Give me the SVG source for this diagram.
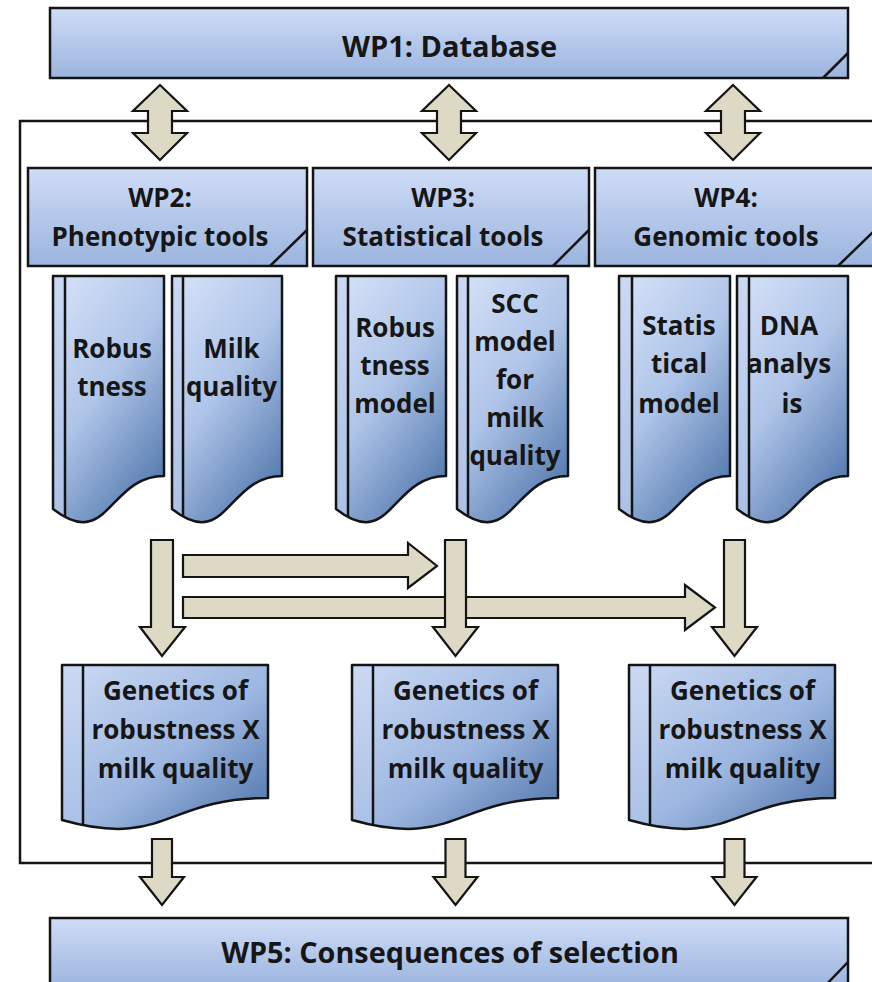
<svg xmlns="http://www.w3.org/2000/svg" xmlns:xlink="http://www.w3.org/1999/xlink" width="872" height="982" viewBox="0 0 872 982">
<defs>
<linearGradient id="gBox" x1="0" y1="0" x2="0" y2="1">
<stop offset="0" stop-color="#cfdcf7"/>
<stop offset="1" stop-color="#9bb4de"/>
</linearGradient>
<linearGradient id="gTall" x1="0.2" y1="0" x2="0.8" y2="1">
<stop offset="0" stop-color="#d0ddf6"/>
<stop offset="0.45" stop-color="#aec4e8"/>
<stop offset="1" stop-color="#4f75ab"/>
</linearGradient>
<linearGradient id="gShort" x1="0" y1="0" x2="1" y2="1">
<stop offset="0" stop-color="#ccdaf4"/>
<stop offset="0.55" stop-color="#9cb6e0"/>
<stop offset="1" stop-color="#4a6fa6"/>
</linearGradient>
<linearGradient id="gStrip" x1="0" y1="0" x2="0" y2="1">
<stop offset="0" stop-color="#cbd8f3"/>
<stop offset="1" stop-color="#a3bbe3"/>
</linearGradient>
<path id="d1" d="M53,276 H164 V476 C108.5,476 108.5,552 53,509 Z"/>
<path id="d2" d="M172,276 H282 V476 C227,476 227,552 172,509 Z"/>
<path id="d3" d="M336,276 H446 V476 C391,476 391,552 336,509 Z"/>
<path id="d4" d="M457,276 H568 V476 C512.5,476 512.5,552 457,509 Z"/>
<path id="d5" d="M619,276 H730 V476 C674.5,476 674.5,552 619,509 Z"/>
<path id="d6" d="M737,276 H848 V476 C792.5,476 792.5,552 737,509 Z"/>
<path id="d7" d="M62,665 H268 V798 C165,798 165,849 62,820 Z"/>
<path id="d8" d="M352,665 H558 V798 C455,798 455,849 352,820 Z"/>
<path id="d9" d="M629,665 H835 V798 C732,798 732,849 629,820 Z"/>
<clipPath id="c1"><use xlink:href="#d1"/></clipPath>
<clipPath id="c2"><use xlink:href="#d2"/></clipPath>
<clipPath id="c3"><use xlink:href="#d3"/></clipPath>
<clipPath id="c4"><use xlink:href="#d4"/></clipPath>
<clipPath id="c5"><use xlink:href="#d5"/></clipPath>
<clipPath id="c6"><use xlink:href="#d6"/></clipPath>
<clipPath id="c7"><use xlink:href="#d7"/></clipPath>
<clipPath id="c8"><use xlink:href="#d8"/></clipPath>
<clipPath id="c9"><use xlink:href="#d9"/></clipPath>
</defs>
<style>
.box{fill:url(#gBox);stroke:#141414;stroke-width:2.5}
.fold{stroke:#141414;stroke-width:2.5;fill:none}
.tall{fill:url(#gTall)}
.short{fill:url(#gShort)}
.strip{fill:url(#gStrip)}
.ol{fill:none;stroke:#141414;stroke-width:2.5;stroke-linejoin:round}
.ln{stroke:#141414;stroke-width:2.5}
.arr{fill:#ddd9c4;stroke:#141414;stroke-width:2.2;stroke-linejoin:miter}
.frame{fill:none;stroke:#141414;stroke-width:2.5}
text{font-family:"Open Sans","Liberation Sans",sans-serif;font-weight:700;fill:#161616;text-anchor:middle}
.t{font-size:26px}
.h{font-size:29px}
</style>
<rect width="872" height="982" fill="#ffffff"/>

<rect class="frame" x="20" y="121" width="880" height="742"/>

<g id="wp1">
<rect class="box" x="50" y="8" width="798" height="70"/>
<line class="fold" x1="823" y1="78" x2="848" y2="53"/>
<text class="h" x="449.5" y="57">WP1: Database</text>
</g>

<g id="wp2">
<rect class="box" x="28" y="168" width="279" height="98"/>
<line class="fold" x1="270" y1="266" x2="307" y2="230"/>
<text class="t" x="160" y="207">WP2:</text>
<text class="t" x="160" y="246">Phenotypic tools</text>
</g>
<g id="wp3">
<rect class="box" x="313" y="168" width="276" height="98"/>
<line class="fold" x1="553" y1="266" x2="589" y2="230"/>
<text class="t" x="443" y="207">WP3:</text>
<text class="t" x="443" y="246">Statistical tools</text>
</g>
<g id="wp4">
<rect class="box" x="595" y="168" width="280" height="98"/>
<line class="fold" x1="838" y1="266" x2="874" y2="231"/>
<text class="t" x="726" y="207">WP4:</text>
<text class="t" x="726" y="246">Genomic tools</text>
</g>

<g id="doc-robustness">
<use xlink:href="#d1" class="tall"/>
<g clip-path="url(#c1)"><rect class="strip" x="53" y="276" width="12" height="300"/><line class="ln" x1="65" y1="276" x2="65" y2="576"/></g>
<use xlink:href="#d1" class="ol"/>
<text class="t" x="112" y="358">Robus</text>
<text class="t" x="112" y="396">tness</text>
</g>
<g id="doc-milk-quality">
<use xlink:href="#d2" class="tall"/>
<g clip-path="url(#c2)"><rect class="strip" x="172" y="276" width="11" height="300"/><line class="ln" x1="183" y1="276" x2="183" y2="576"/></g>
<use xlink:href="#d2" class="ol"/>
<text class="t" x="231.5" y="358">Milk</text>
<text class="t" x="231.5" y="396">quality</text>
</g>
<g id="doc-robustness-model">
<use xlink:href="#d3" class="tall"/>
<g clip-path="url(#c3)"><rect class="strip" x="336" y="276" width="12" height="300"/><line class="ln" x1="348" y1="276" x2="348" y2="576"/></g>
<use xlink:href="#d3" class="ol"/>
<text class="t" x="395" y="337">Robus</text>
<text class="t" x="395" y="375">tness</text>
<text class="t" x="395" y="413">model</text>
</g>
<g id="doc-scc-model">
<use xlink:href="#d4" class="tall"/>
<g clip-path="url(#c4)"><rect class="strip" x="457" y="276" width="11" height="300"/><line class="ln" x1="468" y1="276" x2="468" y2="576"/></g>
<use xlink:href="#d4" class="ol"/>
<text class="t" x="515" y="313">SCC</text>
<text class="t" x="515" y="351">model</text>
<text class="t" x="515" y="389">for</text>
<text class="t" x="515" y="427">milk</text>
<text class="t" x="515" y="465">quality</text>
</g>
<g id="doc-statistical-model">
<use xlink:href="#d5" class="tall"/>
<g clip-path="url(#c5)"><rect class="strip" x="619" y="276" width="13" height="300"/><line class="ln" x1="632" y1="276" x2="632" y2="576"/></g>
<use xlink:href="#d5" class="ol"/>
<text class="t" x="679" y="335">Statis</text>
<text class="t" x="679" y="373">tical</text>
<text class="t" x="679" y="413">model</text>
</g>
<g id="doc-dna-analysis">
<use xlink:href="#d6" class="tall"/>
<g clip-path="url(#c6)"><rect class="strip" x="737" y="276" width="12" height="300"/><line class="ln" x1="749" y1="276" x2="749" y2="576"/></g>
<use xlink:href="#d6" class="ol"/>
<text class="t" x="789" y="335">DNA</text>
<text class="t" x="789" y="373">analys</text>
<text class="t" x="792" y="413">is</text>
</g>

<g id="connectors">
<polygon class="arr" points="160,85 187,111 172,111 172,133 187,133 160,160 133,133 148,133 148,111 133,111"/>
<polygon class="arr" points="449,85 476,111 461,111 461,133 476,133 449,160 422,133 437,133 437,111 422,111"/>
<polygon class="arr" points="733,85 760,111 745,111 745,133 760,133 733,160 706,133 721,133 721,111 706,111"/>
<polygon class="arr" points="183,555 408,555 408,543 437,566 408,588 408,577 183,577"/>
<polygon class="arr" points="183,597 685,597 685,585 715,607.5 685,630 685,618 183,618"/>
<polygon class="arr" points="151,540 173,540 173,627 185,627 162,656 140,627 151,627"/>
<polygon class="arr" points="445,540 466,540 466,627 478,627 455.5,656 433,627 445,627"/>
<polygon class="arr" points="724,540 745,540 745,627 757,627 734.5,656 712,627 724,627"/>
<polygon class="arr" points="152,839 172,839 172,877 184,877 162,905 140,877 152,877"/>
<polygon class="arr" points="445.5,839 465.5,839 465.5,877 477.5,877 455.5,905 433.5,877 445.5,877"/>
<polygon class="arr" points="724.5,839 744.5,839 744.5,877 756.5,877 734.5,905 712.5,877 724.5,877"/>
</g>

<g id="doc-genetics-1">
<use xlink:href="#d7" class="short"/>
<g clip-path="url(#c7)"><rect class="strip" x="62" y="665" width="21" height="200"/><line class="ln" x1="83" y1="665" x2="83" y2="865"/></g>
<use xlink:href="#d7" class="ol"/>
<text class="t" x="175.5" y="700">Genetics of</text>
<text class="t" x="175.5" y="739">robustness X</text>
<text class="t" x="175.5" y="778">milk quality</text>
</g>
<g id="doc-genetics-2">
<use xlink:href="#d8" class="short"/>
<g clip-path="url(#c8)"><rect class="strip" x="352" y="665" width="21" height="200"/><line class="ln" x1="373" y1="665" x2="373" y2="865"/></g>
<use xlink:href="#d8" class="ol"/>
<text class="t" x="465.5" y="700">Genetics of</text>
<text class="t" x="465.5" y="739">robustness X</text>
<text class="t" x="465.5" y="778">milk quality</text>
</g>
<g id="doc-genetics-3">
<use xlink:href="#d9" class="short"/>
<g clip-path="url(#c9)"><rect class="strip" x="629" y="665" width="21" height="200"/><line class="ln" x1="650" y1="665" x2="650" y2="865"/></g>
<use xlink:href="#d9" class="ol"/>
<text class="t" x="742.5" y="700">Genetics of</text>
<text class="t" x="742.5" y="739">robustness X</text>
<text class="t" x="742.5" y="778">milk quality</text>
</g>

<g id="wp5">
<rect class="box" x="50" y="918" width="798" height="70"/>
<line class="fold" x1="823" y1="988" x2="848" y2="962"/>
<text class="h" x="450" y="963" style="font-size:28.8px">WP5: Consequences of selection</text>
</g>
</svg>
